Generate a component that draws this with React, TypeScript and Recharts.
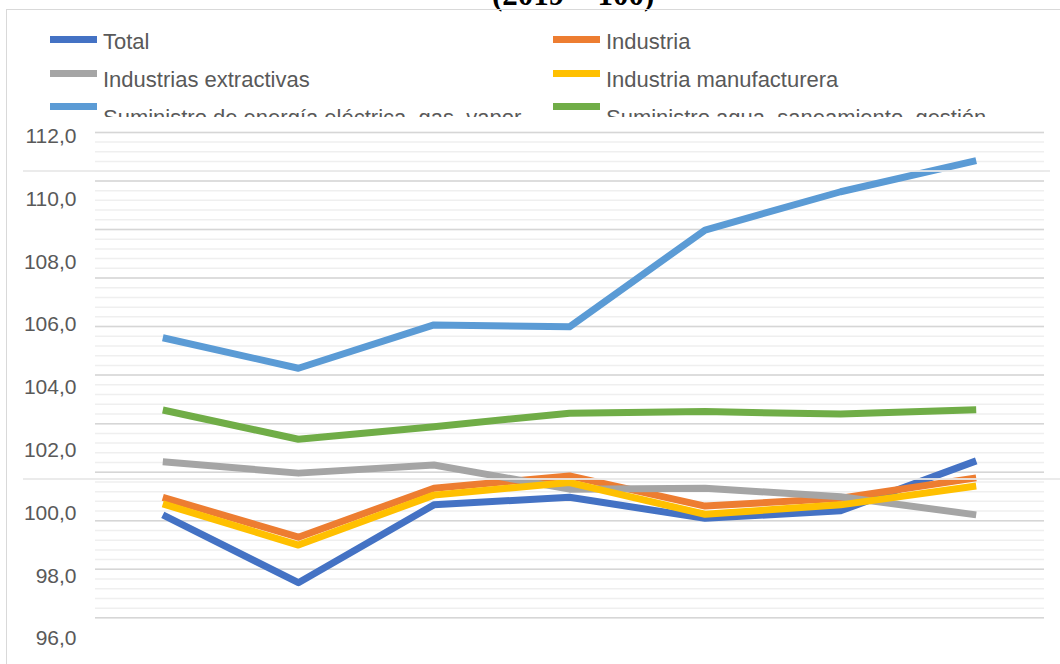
import React from "react";
import { LineChart, Line, XAxis, YAxis, CartesianGrid } from "recharts";

// categories (x axis labels are not visible in the picture)
const categories = ["2016", "2017", "2018", "2019", "2020", "2021", "2022"];

const total = [99.92, 97.76, 100.24, 100.48, 99.81, 100.05, 101.64];
const industria = [100.48, 99.21, 100.77, 101.16, 100.2, 100.45, 101.1];
const extractivas = [101.61, 101.25, 101.51, 100.74, 100.77, 100.5, 99.92];
const manufacturera = [100.27, 98.96, 100.55, 100.95, 99.94, 100.24, 100.84];
const energia = [105.56, 104.59, 105.97, 105.91, 108.99, 110.21, 111.2];
const agua = [103.26, 102.33, 102.73, 103.16, 103.21, 103.13, 103.27];

const yTicks = [96, 98, 100, 102, 104, 106, 108, 110, 112];
// gridline layer (5 minor steps per major step)
const minorTicks = Array.from({ length: 51 }, (_, i) => i);
const majorTicks = [0, 5, 10, 15, 20, 25, 30, 35, 40, 45, 50];

const series = [
  { key: "total", name: "Total", color: "#4472C4", values: total },
  { key: "industria", name: "Industria", color: "#ED7D31", values: industria },
  { key: "extractivas", name: "Industrias extractivas", color: "#A5A5A5", values: extractivas },
  { key: "manufacturera", name: "Industria manufacturera", color: "#FFC000", values: manufacturera },
  { key: "energia", name: "Suministro de energía eléctrica, gas, vapor y aire acondicionado", color: "#5B9BD5", values: energia },
  { key: "agua", name: "Suministro agua, saneamiento, gestión de residuos y descontaminación", color: "#70AD47", values: agua },
];

const data = categories.map((c, i) => {
  const row: Record<string, string | number> = { cat: c };
  series.forEach((s) => (row[s.key] = s.values[i]));
  return row;
});

const FONT = "'Liberation Sans', Arial, sans-serif";
const fmt = (v: number) => v.toFixed(1).replace(".", ",");

function LegendBox() {
  const cols = [50, 553];
  const textW = [420, 395];
  return (
    <div style={{ position: "absolute", left: 0, top: 0, width: 1060, height: 117, overflow: "hidden" }}>
      {series.map((s, i) => {
        const row = Math.floor(i / 2);
        const col = i % 2;
        return (
          <React.Fragment key={s.key}>
            <div style={{ position: "absolute", left: cols[col], top: 36 + 33.5 * row, width: 47, height: 7, background: s.color }} />
            <div
              style={{
                position: "absolute",
                left: cols[col] + 53,
                top: 30.5 + 38.3 * row,
                width: textW[col],
                fontFamily: FONT,
                fontSize: 22,
                lineHeight: "22px",
                color: "#595959",
              }}
            >
              {s.name}
            </div>
          </React.Fragment>
        );
      })}
    </div>
  );
}

export default function App() {
  return (
    <div style={{ position: "absolute", left: 0, top: 0, width: 1060, height: 664, overflow: "hidden", background: "#fff" }}>
      <div
        style={{
          position: "absolute",
          left: 492,
          top: -20,
          fontFamily: "'Liberation Serif', 'Times New Roman', serif",
          fontWeight: 700,
          fontSize: 31,
          lineHeight: "30px",
          color: "#000",
          whiteSpace: "nowrap",
        }}
      >
        (2019 = 100)
      </div>
      <div style={{ position: "absolute", left: 6, top: 9, width: 1100, height: 700, border: "1.5px solid #d9d9d9" }} />
      <LegendBox />
      <div style={{ position: "absolute", left: 0, top: 0 }}>
        {/* plot runs past the bottom edge, as in the cropped reference */}
        <LineChart width={1060} height={700} data={data} margin={{ top: 132.4, right: 16, bottom: 30.6, left: 0 }}>
          <XAxis dataKey="cat" hide padding={{ left: 67.8, right: 67.8 }} />
          <YAxis
            domain={[95, 112.1]}
            ticks={yTicks}
            type="number"
            width={95}
            interval={0}
            axisLine={false}
            tickLine={false}
            tickSize={0}
            tickMargin={18.5}
            tickFormatter={fmt}
            tick={{ fontSize: 21, fill: "#595959", fontFamily: FONT }}
          />
          <YAxis yAxisId="minor" hide type="number" domain={[-5.31, 50]} ticks={minorTicks} interval={0} allowDataOverflow />
          <YAxis yAxisId="major" hide type="number" domain={[-5.31, 50]} ticks={majorTicks} interval={0} allowDataOverflow />
          <CartesianGrid yAxisId="minor" vertical={false} stroke="#efefef" strokeWidth={1.5} />
          <CartesianGrid yAxisId="major" vertical={false} stroke="#d6d6d6" strokeWidth={1.5} />
          {series.map((s) => (
            <Line
              key={s.key}
              dataKey={s.key}
              name={s.name}
              type="linear"
              stroke={s.color}
              strokeWidth={7}
              strokeLinejoin="round"
              dot={false}
              activeDot={false}
              isAnimationActive={false}
            />
          ))}
        </LineChart>
      </div>
      <div style={{ position: "absolute", left: 23, top: 169.7, width: 1027, height: 2, background: "#e9e9e9", opacity: 0.9 }} />
      <div style={{ position: "absolute", left: 23, top: 478, width: 1037, height: 2, background: "#e9e9e9", opacity: 0.9 }} />
    </div>
  );
}
